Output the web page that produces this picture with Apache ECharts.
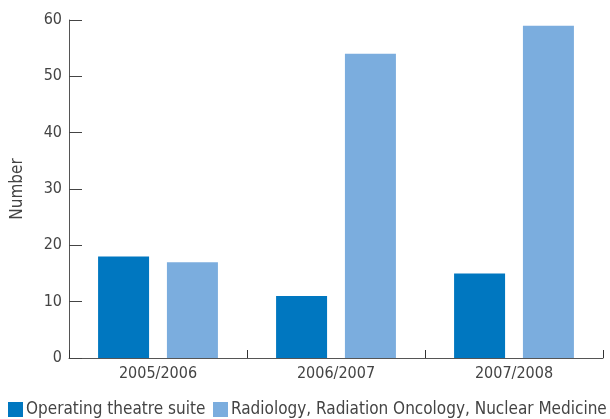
<!DOCTYPE html>
<html><head><meta charset="utf-8">
<script src="https://cdn.jsdelivr.net/npm/echarts@6/dist/echarts.min.js"></script>
<style>html,body{margin:0;padding:0;background:#fff}#c{width:610px;height:419px}</style>
</head><body><div id="c"></div>
<script>
const categories = ['2005/2006', '2006/2007', '2007/2008'];
const operatingTheatre = [18, 11, 15];
const radiology = [17, 54, 59];
const seriesNames = ['Operating theatre suite', 'Radiology, Radiation Oncology, Nuclear Medicine'];
const yTicks = { min: 0, max: 60, interval: 10 };

const FONT = '"DejaVu Sans Condensed", "Liberation Sans Narrow", sans-serif';
const legendBase = {
  top: 401, padding: 0, itemWidth: 15, itemHeight: 15, icon: 'rect',
  textStyle: { fontFamily: FONT, fontSize: 17, color: '#444', padding: [0, 0, 0, -2] }
};
const chart = echarts.init(document.getElementById('c'), null, { renderer: 'canvas' });
chart.setOption({
  animation: false,
  textStyle: { fontFamily: FONT },
  grid: { left: 69, right: 7, top: 20, bottom: 61, containLabel: false },
  legend: [
    Object.assign({}, legendBase, { left: 8, data: [seriesNames[0]] }),
    Object.assign({}, legendBase, { left: 213, data: [seriesNames[1]] })
  ],
  xAxis: {
    type: 'category', data: categories,
    axisLine: { lineStyle: { color: '#555', width: 1 } },
    axisTick: { show: true, interval: 0, inside: true, length: 8, lineStyle: { color: '#333' } },
    axisLabel: { fontFamily: FONT, fontSize: 16, color: '#444', margin: 8 }
  },
  yAxis: {
    type: 'value', min: yTicks.min, max: yTicks.max, interval: yTicks.interval,
    name: 'Number', nameLocation: 'middle', nameGap: 43, nameRotate: 90,
    nameTextStyle: { fontFamily: FONT, fontSize: 17, color: '#444' },
    axisLine: { show: true, lineStyle: { color: '#555', width: 1 } },
    axisTick: { show: true, inside: true, length: 13, lineStyle: { color: '#444' } },
    axisLabel: { fontFamily: FONT, fontSize: 16, color: '#444', margin: 7 },
    splitLine: { show: false }
  },
  series: [
    { name: seriesNames[0], type: 'bar', data: operatingTheatre, barWidth: 51, barGap: '35%', itemStyle: { color: '#0077c0' } },
    { name: seriesNames[1], type: 'bar', data: radiology, barWidth: 51, barGap: '35%', itemStyle: { color: '#7badde' } }
  ]
});
</script></body></html>
